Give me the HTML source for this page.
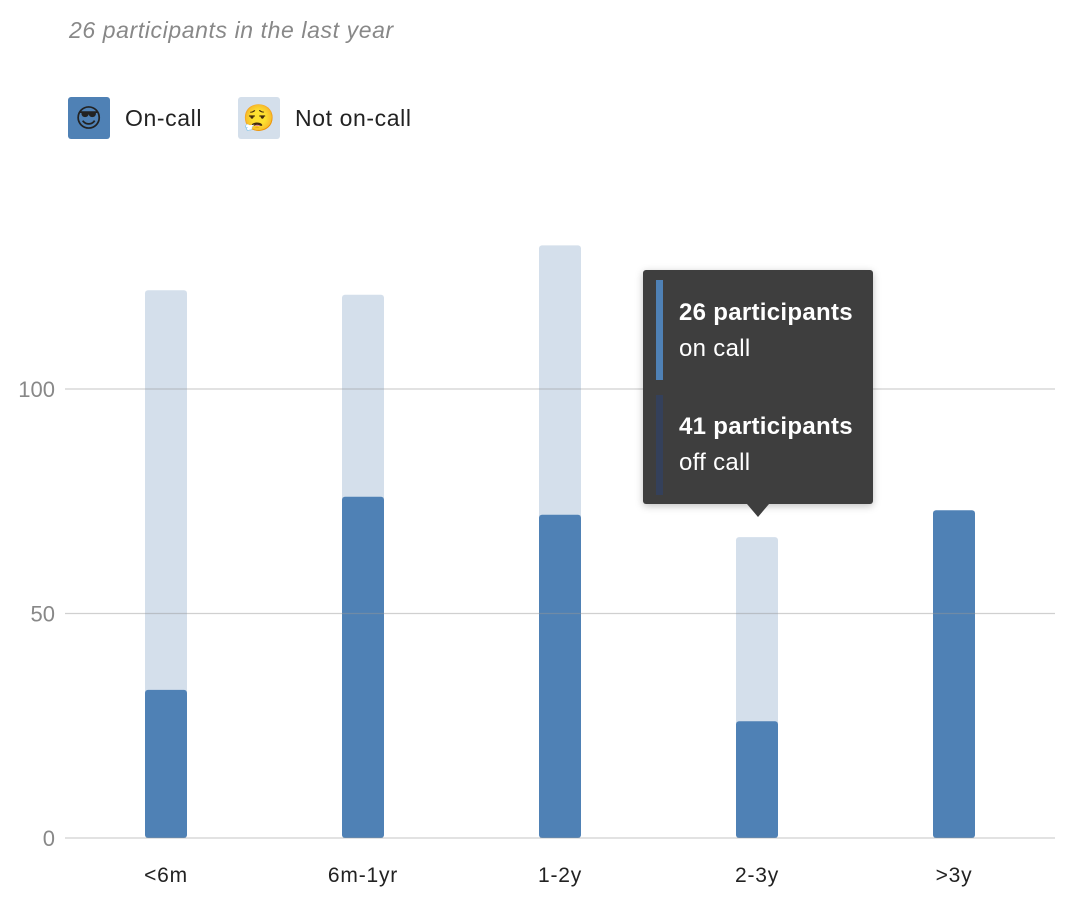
<!DOCTYPE html>
<html><head><meta charset="utf-8"><style>
body{margin:0;width:1080px;height:914px;background:#fff;font-family:"Liberation Sans","DejaVu Sans",sans-serif;overflow:hidden;position:relative}
.sub{position:absolute;left:69px;top:17px;font-size:23px;font-style:italic;color:#888;letter-spacing:0.6px}
.leg{position:absolute;top:97px;display:flex;align-items:center;font-size:23px;color:#222;letter-spacing:0.6px}
.sw{width:42px;height:42px;border-radius:3px;display:flex;align-items:center;justify-content:center;font-size:26px;margin-right:15px}
.tip{position:absolute;left:643px;top:270px;width:230px;height:234px;background:#3e3e3e;border-radius:3px;color:#fff;box-shadow:0 2px 8px rgba(0,0,0,.25)}
.tip .ln{position:absolute;left:13px;width:7px;height:100px}
.tip .t{position:absolute;left:36px;font-size:24px;line-height:36px;letter-spacing:0.3px}
.arrow{position:absolute;left:747px;top:504px;width:0;height:0;border-left:11px solid transparent;border-right:11px solid transparent;border-top:13px solid #3e3e3e}
</style></head><body>
<div class="sub">26 participants in the last year</div>
<div class="leg" style="left:68px"><div class="sw" style="background:#4f81b5">😎</div>On-call</div>
<div class="leg" style="left:238px"><div class="sw" style="background:#d4dfeb">😮‍💨</div>Not on-call</div>
<svg id="chart" width="1080" height="914" style="position:absolute;left:0;top:0"></svg>
<div class="tip">
<div class="ln" style="top:10px;background:#4f81b5"></div>
<div class="ln" style="top:125px;background:#34405a"></div>
<div class="t" style="top:25px"><b>26 participants</b><br>on call</div>
<div class="t" style="top:139px"><b>41 participants</b><br>off call</div>
</div>
<div class="arrow"></div>
<script>
const categories=["<6m","6m-1yr","1-2y","2-3y",">3y"];
const onCall=[33,76,72,26,73];
const notOnCall=[89,45,60,41,0];
const ticks=[0,50,100];
const svg=document.getElementById('chart');const NS='http://www.w3.org/2000/svg';
const y=v=>838-v*4.49;
const x=i=>166+i*197;
function mk(t,a){const e=document.createElementNS(NS,t);for(const k in a)e.setAttribute(k,a[k]);svg.appendChild(e);return e;}
categories.forEach((c,i)=>{
 const tot=onCall[i]+notOnCall[i];
 if(notOnCall[i]>0){const r=mk('rect',{x:x(i)-21,y:y(tot),width:42,height:y(onCall[i])-y(tot)+4,rx:3,fill:'#d4dfeb'});
 
 }
 const b=mk('rect',{x:x(i)-21,y:y(onCall[i]),width:42,height:y(0)-y(onCall[i]),rx:3,fill:'#4f81b5'});
 
 
 const t=mk('text',{x:x(i),y:882,'text-anchor':'middle','font-size':21,fill:'#222','letter-spacing':0.8});t.textContent=c;
 
 
});
ticks.forEach(v=>{
 const l=mk('line',{x1:65,x2:1055,y1:y(v),y2:y(v),stroke:'rgba(150,150,150,0.45)','stroke-width':1.2});
 
 
 const t=mk('text',{x:55,y:y(v)+8,'text-anchor':'end','font-size':22,fill:'#888'});t.textContent=v;
 
 
});
</script>
</body></html>
